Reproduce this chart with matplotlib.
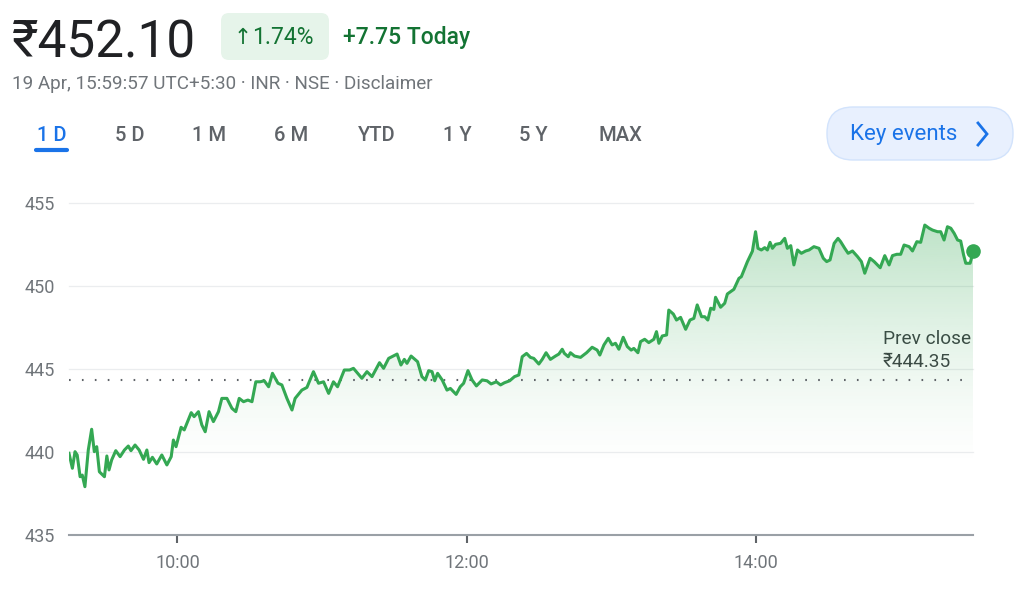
import numpy as np
import matplotlib
matplotlib.use('Agg')
import matplotlib.pyplot as plt
from matplotlib.patches import FancyBboxPatch

plt.rcParams['font.family'] = ['Roboto', 'Noto Sans', 'DejaVu Sans']

# intraday price, minutes after 09:15
t_morning = [0, 1.4, 2.5, 3.4, 4.6, 5.5, 6.6, 8.0, 9.4, 10.5, 11.5, 12.6, 14.7, 15.7, 16.6,
             17.7, 19.4, 21.2, 23.0, 24.6, 25.7, 27.4, 29.1, 30.9, 32.3, 33.2, 34.6, 36.4,
             38.5, 40.6, 42.4, 43.3, 44.4, 46.5, 47.8, 50.7, 51.9, 53.7, 55.1, 56.5, 58.1,
             59.9, 62.0, 63.4, 65.5, 67.6, 69.2, 70.6, 72.4, 74.2, 75.9, 77.5, 79.3, 81.0,
             82.8, 84.4, 86.7, 88.3, 90.4, 92.5, 93.8, 96.6]
p_morning = [439.92, 439.02, 440.02, 439.82, 438.51, 438.61, 437.91, 440.12, 441.37, 440.02,
             440.32, 438.81, 438.51, 439.76, 438.92, 439.52, 440.08, 439.72, 440.12, 440.36,
             440.08, 440.42, 440.12, 439.56, 440.12, 439.36, 439.68, 439.28, 439.82, 439.22,
             439.72, 440.72, 440.32, 441.49, 441.33, 442.37, 442.13, 442.43, 441.63, 441.22,
             442.43, 441.83, 442.43, 443.23, 443.23, 442.63, 442.43, 443.23, 443.03, 443.13,
             443.03, 444.23, 444.23, 444.29, 443.93, 444.74, 444.14, 444.04, 443.23, 442.53,
             443.23, 443.73]

t_midday = [98.7, 101.4, 103.5, 105.6, 107.7, 109.7, 111.4, 114.2, 116.4, 118.0, 121.5, 123.6,
            125.7, 128.8, 130.5, 132.6, 136.1, 137.7, 139.1, 140.2, 141.9, 144.6, 146.4, 147.8,
            149.2, 150.6, 151.7, 152.9, 154.8, 156.8, 158.2, 160.6, 162.3, 163.7, 165.5, 167.2,
            169.0, 171.4, 173.4, 175.1, 177.3, 179.0, 180.6, 182.8, 184.8, 186.6]
p_midday = [443.89, 444.84, 444.14, 444.23, 443.53, 444.23, 443.93, 444.94, 444.94, 445.04,
            444.44, 444.84, 444.54, 445.38, 445.04, 445.64, 445.90, 445.24, 445.58, 445.34,
            445.78, 445.44, 444.54, 444.34, 444.90, 444.84, 444.29, 444.74, 444.34, 443.73,
            443.83, 443.47, 443.93, 444.14, 444.90, 444.34, 443.98, 444.34, 444.29, 444.10,
            444.23, 444.04, 444.17, 444.29, 444.54, 444.64]

t_afternoon = [188.0, 189.8, 191.4, 192.8, 194.9, 196.3, 197.9, 199.7, 201.8, 203.2, 204.6,
               205.5, 207.1, 208.0, 209.7, 212.2, 214.7, 217.0, 219.1, 220.2, 221.9, 223.7,
               225.3, 226.7, 228.1, 229.9, 231.6, 233.2, 234.3, 236.0, 237.1, 238.8, 240.5,
               242.6, 243.7, 244.7, 246.1, 247.9, 248.8, 250.7, 252.0, 253.7, 255.8, 257.6,
               259.2, 260.6, 262.4, 263.7, 265.0, 266.2, 267.5, 268.2, 270.3, 272.0, 273.1,
               275.8, 277.9, 278.9]
p_afternoon = [445.74, 445.94, 445.70, 445.64, 445.30, 445.58, 445.98, 445.58, 445.78, 445.90,
               446.19, 445.94, 445.74, 445.98, 445.78, 445.70, 445.98, 446.31, 446.14, 445.84,
               446.45, 446.85, 446.45, 446.55, 446.19, 446.91, 446.35, 446.14, 446.24, 445.98,
               446.65, 446.79, 446.59, 446.79, 447.25, 446.55, 446.99, 447.05, 448.55, 448.31,
               447.95, 448.11, 447.39, 447.95, 448.05, 448.86, 448.15, 448.15, 447.95, 448.66,
               448.59, 449.32, 448.72, 448.96, 449.52, 449.80, 450.46, 450.56]

t_close = [281.4, 283.5, 284.8, 285.8, 287.2, 288.6, 289.7, 290.8, 291.8, 293.1, 295.2, 296.9,
           298.0, 299.4, 300.7, 302.2, 303.8, 305.6, 307.0, 309.0, 311.1, 312.9, 314.3, 315.7,
           317.4, 319.0, 320.1, 321.8, 323.2, 325.0, 327.1, 328.7, 330.1, 332.3, 334.0, 336.5,
           338.4, 340.2, 341.6, 343.4, 345.0, 346.4, 348.5, 349.9, 351.7, 353.3, 355.0, 356.8,
           358.2, 360.3, 361.6, 363.0, 364.4, 365.8, 367.2, 368.6, 369.9, 371.1, 372.0, 373.8,
           374.8, 375.0]
p_close = [451.46, 452.10, 453.27, 452.27, 452.17, 452.31, 452.17, 452.63, 452.27, 452.51,
           452.57, 452.87, 452.27, 452.43, 451.27, 452.17, 451.97, 452.11, 452.17, 452.37,
           452.27, 451.67, 451.47, 451.57, 452.57, 452.87, 452.67, 452.27, 451.97, 452.11,
           451.77, 451.47, 450.77, 451.67, 451.47, 451.10, 451.83, 451.27, 451.83, 451.91,
           451.91, 452.47, 452.37, 452.11, 452.67, 452.63, 453.67, 453.48, 453.37, 453.27,
           453.27, 452.77, 453.57, 453.48, 453.17, 452.77, 452.71, 451.87, 451.37, 451.37,
           451.91, 452.10]

prev_close = 444.35
y_ticks = [435, 440, 445, 450, 455]
x_ticks = [45, 165, 285]
x_labels = ['10:00', '12:00', '14:00']
tabs = ['1 D', '5 D', '1 M', '6 M', 'YTD', '1 Y', '5 Y', 'MAX']
tab_x = [51.5, 129.5, 209.5, 291, 377, 457.5, 533.5, 620]

t = np.array(t_morning + t_midday + t_afternoon + t_close)
p = np.array(p_morning + p_midday + p_afternoon + p_close)

green = '#34a853'
grey = '#70757a'

fig = plt.figure(figsize=(10.24, 5.96), dpi=100)

# pixel overlay for the header
ov = fig.add_axes([0, 0, 1, 1])
ov.set_xlim(0, 1024)
ov.set_ylim(596, 0)
ov.axis('off')

ov.text(12, 57, '\u20b9452.10', fontsize=37, color='#202124', va='baseline')
ov.add_patch(FancyBboxPatch((221 + 8, 13 + 8), 108 - 16, 47 - 16,
                            boxstyle='round,pad=8', fc='#e6f4ea', ec='none'))
ov.text(234, 44, '\u2191', fontsize=15.5, color='#137333', va='baseline',
        family=['DejaVu Sans'])
ov.text(252, 44, '1.74%', fontsize=16.5, color='#137333', va='baseline')
ov.text(343, 44, '+7.75 Today', fontsize=16.5, color='#137333', va='baseline',
        weight='medium')
ov.text(12, 89, '19 Apr, 15:59:57 UTC+5:30 \u00b7 INR \u00b7 NSE \u00b7 Disclaimer',
        fontsize=13.6, color=grey, va='baseline')

for lab, x in zip(tabs, tab_x):
    ov.text(x, 141, lab, fontsize=14.5, ha='center', va='baseline', weight='medium',
            color='#1a73e8' if lab == '1 D' else '#5f6368')
ov.plot([36, 67], [150, 150], color='#1a73e8', lw=3, solid_capstyle='round')

ov.add_patch(FancyBboxPatch((827 + 26, 107 + 26), 186 - 52, 53 - 52,
                            boxstyle='round,pad=26', fc='#e8f0fe', ec='#d2e3fc', lw=1))
ov.text(850, 140, 'Key events', fontsize=16, color='#1a73e8', va='baseline')
ov.plot([978, 987, 978], [123, 134, 145], color='#1a73e8', lw=2, solid_joinstyle='miter')

ov.text(883, 344, 'Prev close', fontsize=13.7, color='#3c4043', va='baseline')
ov.text(883, 367, '\u20b9444.35', fontsize=13.7, color='#3c4043', va='baseline')

# chart
ax = fig.add_axes([69 / 1024, 1 - 535 / 596, 904 / 1024, 332 / 596])
ax.patch.set_alpha(0)

for y in y_ticks[1:]:
    ax.axhline(y, color='#ebedef', lw=0.9, zorder=0, clip_on=False)

poly = ax.fill_between(t, p, 435, facecolor='none', edgecolor='none')
ys = np.linspace(455, 435, 300)
f = np.clip((ys - 439) / 16.0, 0, 1)
grad = np.zeros((300, 1, 4))
grad[..., :3] = matplotlib.colors.to_rgb(green)
grad[:, 0, 3] = 0.36 * f ** 1.4
im = ax.imshow(grad, extent=[0, 375, 435, 455], origin='upper', aspect='auto',
               zorder=1, interpolation='bilinear')
im.set_clip_path(poly.get_paths()[0], transform=ax.transData)

ax.axhline(prev_close, color='#5f6368', lw=1.5, ls=(0, (0.8, 5.4)), zorder=2)
ax.plot(t, p, color=green, lw=2.2, zorder=3, solid_joinstyle='round')
ax.plot(t[-1], p[-1], 'o', color=green, ms=9.5, zorder=4, clip_on=False)

ax.set_xlim(0, 375)
ax.set_ylim(435, 455)
ax.set_yticks(y_ticks)
ax.set_xticks(x_ticks)
ax.set_xticklabels(x_labels)
for s in ['top', 'right', 'left']:
    ax.spines[s].set_visible(False)
ax.spines['bottom'].set_color('#9aa0a6')
ax.spines['bottom'].set_linewidth(1.5)
ax.tick_params(axis='y', length=0, pad=10, labelsize=13, labelcolor=grey)
ax.tick_params(axis='x', length=6, width=1.5, color='#5f6368', pad=8,
               labelsize=13, labelcolor=grey)

fig.savefig('out.png', dpi=100)
